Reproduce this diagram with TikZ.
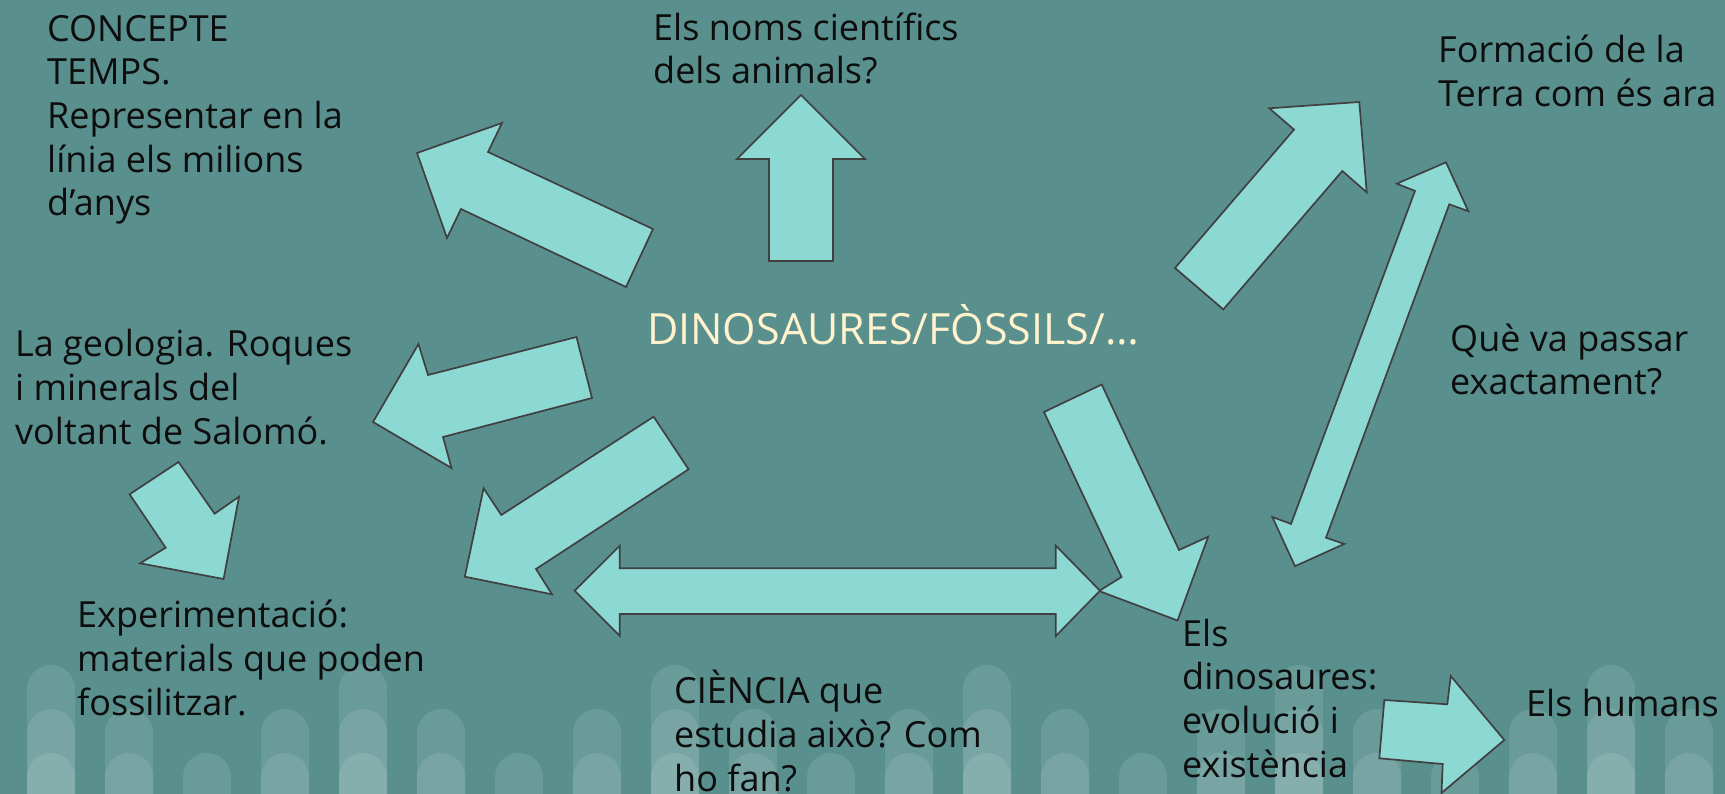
\documentclass[tikz,border=0pt]{standalone}
\usepackage{fontspec}
\setmainfont{Open Sans}
\definecolor{bgteal}{RGB}{89,144,142}
\definecolor{arrowfill}{RGB}{140,216,211}
\definecolor{arrowline}{RGB}{64,64,64}
\definecolor{cream}{RGB}{255,242,204}

\begin{document}
\begin{tikzpicture}[x=1pt,y=-1pt,
    txt/.style={anchor=north west,align=left,inner sep=0pt,text=black!95,
        font=\fontsize{36}{43.7}\selectfont},
    blockarrow/.style={fill=arrowfill,draw=arrowline,line width=1.7pt},
    pill/.style={fill=white,fill opacity=0.1}]

    % the background
    \fill[bgteal] (0,0) rectangle (1725,794);
    \useasboundingbox (0,0) rectangle (1725,794);
    \foreach \n [count=\k from 0] in {3,2,1,2,3,2,1,2,3,2,1,2,3,2,1,2,3,2,1,2,3,2}
      \foreach \j in {1,...,\n}
        \fill[pill] ({27+78*\k},794) -- ({27+78*\k},{821-44*\j})
          arc (180:360:24) -- ({75+78*\k},794) -- cycle;

    % the arrows
    \draw[blockarrow] (417,153) -- (502,123) -- (488,152) -- (653,229)
      -- (626,287) -- (461,209) -- (447,238) -- cycle;
    \draw[blockarrow] (801,95) -- (865,159) -- (833,159) -- (833,261)
      -- (769,261) -- (769,159) -- (737,159) -- cycle;
    \draw[blockarrow] (373,422) -- (418.5,344) -- (428,375) -- (576.5,337)
      -- (592,398) -- (443,437) -- (451.5,468) -- cycle;
    \draw[blockarrow] (178.5,462) -- (214.6,513.7) -- (239,496.7) -- (223.6,579)
      -- (140.1,563.3) -- (165.7,547.7) -- (129.6,494.3) -- cycle;
    \draw[blockarrow] (653.6,416.7) -- (688.6,469.3) -- (536,569) -- (552,594.3)
      -- (464.8,576.7) -- (483.6,488.3) -- (501.3,515) -- cycle;
    \draw[blockarrow] (1175,268) -- (1294,129.6) -- (1269.3,108.3) -- (1359.3,102)
      -- (1366.7,192.3) -- (1342.3,171) -- (1223.3,309.4) -- cycle;
    \draw[blockarrow] (1446,162.3) -- (1468.3,211.2) -- (1449.3,204.3)
      -- (1326,537.7) -- (1344.3,543.9) -- (1295,566.2) -- (1272.3,517)
      -- (1291,523.9) -- (1415,190.9) -- (1396.7,183.7) -- cycle;
    \draw[blockarrow] (1044,412) -- (1101.7,384.5) -- (1179,550) -- (1208.2,536.7)
      -- (1177.5,620.5) -- (1099,591) -- (1121.5,577) -- cycle;
    \draw[blockarrow] (574.7,590.7) -- (619.8,545.7) -- (619.8,568.3)
      -- (1055.8,568.3) -- (1055.8,545.7) -- (1100,590.7) -- (1055.8,636)
      -- (1055.8,614) -- (619.8,614) -- (619.8,636) -- cycle;
    \draw[blockarrow] (1379.3,758.3) -- (1384.3,700) -- (1447.3,704.3)
      -- (1450.7,676) -- (1504.3,740) -- (1441.5,793) -- (1442.7,764) -- cycle;

    % the texts
    \node[txt] (concepte) at (47,10.4)
      {\strut CONCEPTE\\TEMPS.\\Representar en la\\línia els milions\\d’anys};
    \node[txt] (noms) at (653,9.4) {\strut Els noms científics\\dels animals?};
    \node[txt] (formacio) at (1438,32.1) {\strut Formació de la\\Terra com és ara};
    \node[txt] (geologia) at (15,325.9)
      {\strut La geologia. Roques\\i minerals del\\voltant de Salomó.};
    \node[txt,text=cream,font=\fontsize{43}{52}\selectfont] (centre) at (647,304.3)
      {\strut DINOSAURES/FÒSSILS/…};
    \node[txt] (passar) at (1450,320.4) {\strut Què va passar\\exactament?};
    \node[txt] (experim) at (77,596.9)
      {\strut Experimentació:\\materials que poden\\fossilitzar.};
    \node[txt] (ciencia) at (674,670)
      {\strut CIÈNCIA que\\estudia això? Com\\ho fan?};
    \node[txt] (dinos) at (1182,615.4)
      {\strut Els\\dinosaures:\\evolució i\\existència};
    \node[txt] (humans) at (1526,685.4) {\strut Els humans};
\end{tikzpicture}
\end{document}
